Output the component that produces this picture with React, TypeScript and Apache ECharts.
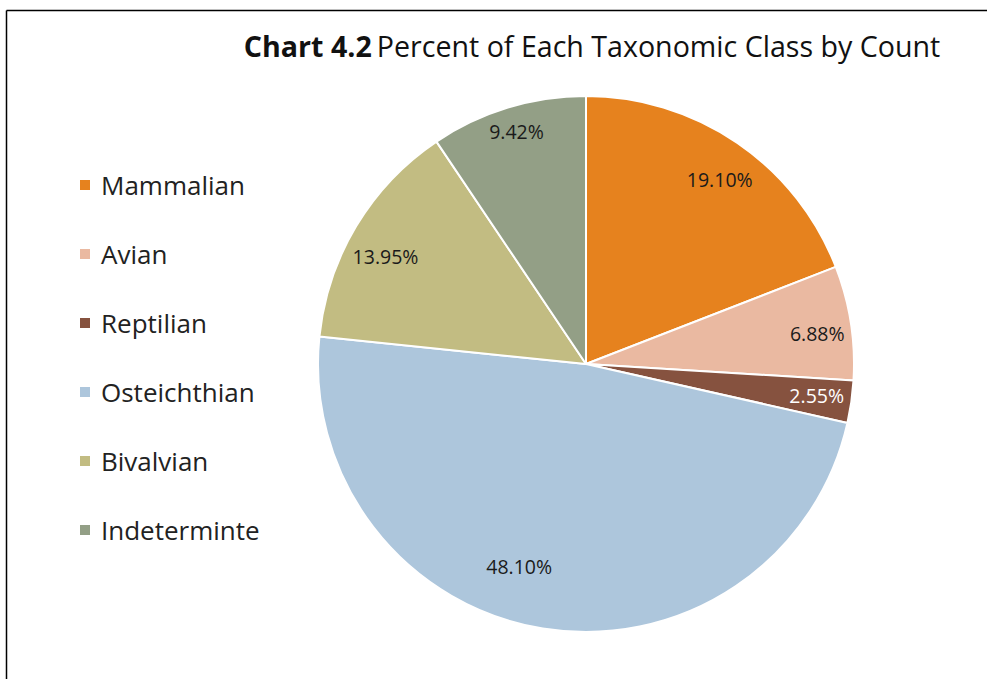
import React, { useEffect, useRef } from "react";
import * as echarts from "echarts";

const categories = ["Mammalian", "Avian", "Reptilian", "Osteichthian", "Bivalvian", "Indeterminte"];
const percents = [19.1, 6.88, 2.55, 48.1, 13.95, 9.42];
const colors = ["#E6821E", "#EAB9A1", "#86523F", "#ADC6DC", "#C2BC82", "#939F86"];
const labelColors = ["#1a1a1a", "#1a1a1a", "#ffffff", "#1a1a1a", "#1a1a1a", "#1a1a1a"];
// small nudges of the data labels (Excel "best fit" placement)
const labelNudges = [[5, 4], [6, 5], [5, -1], [-30, -23], [-5, 10], [-3, -14]];

const FONT = "'Open Sans', 'Noto Sans', sans-serif";

export default function App() {
  const ref = useRef<HTMLDivElement>(null);
  useEffect(() => {
    if (!ref.current) return;
    const chart = echarts.init(ref.current, null, { renderer: "svg" });
    const baseData = categories.map((name, i) => ({
      name,
      value: percents[i],
      itemStyle: { color: colors[i] },
    }));
    const labelData = categories.map((name, i) => ({
      name,
      value: percents[i],
      label: { color: labelColors[i], offset: labelNudges[i] },
    }));
    chart.setOption({
      animation: false,
      backgroundColor: "#ffffff",
      title: {
        text: "{b|Chart 4.2} {n|Percent of Each Taxonomic Class by Count}",
        left: 587,
        top: 26,
        textAlign: "center",
        textStyle: {
          rich: {
            b: { fontFamily: FONT, fontSize: 28.6, fontWeight: "bold", color: "#111" },
            n: { fontFamily: FONT, fontSize: 28.6, fontWeight: "normal", color: "#111" },
          },
        },
      },
      legend: {
        orient: "vertical",
        left: 78,
        top: 172,
        padding: 0,
        itemWidth: 12,
        itemHeight: 12,
        itemGap: 43,
        icon: "rect",
        data: categories,
        textStyle: {
          fontFamily: FONT,
          fontSize: 26,
          lineHeight: 24,
          color: "#222",
          padding: [0, 0, 0, 5],
        },
      },
      graphic: [
        { type: "line", shape: { x1: 6.5, y1: 10.5, x2: 987, y2: 10.5 }, style: { stroke: "#000", lineWidth: 1.5 } },
        { type: "line", shape: { x1: 6.5, y1: 10.5, x2: 6.5, y2: 679 }, style: { stroke: "#000", lineWidth: 1.5 } },
      ],
      series: [
        {
          type: "pie",
          center: [586, 364],
          radius: [0, 268],
          startAngle: 90,
          clockwise: true,
          label: { show: false },
          labelLine: { show: false },
          itemStyle: { borderColor: "#ffffff", borderWidth: 2 },
          emphasis: { disabled: true },
          data: baseData,
        },
        {
          type: "pie",
          center: [586, 364],
          radius: [180, 270],
          startAngle: 90,
          clockwise: true,
          silent: true,
          legendHoverLink: false,
          itemStyle: { color: "rgba(0,0,0,0)" },
          label: {
            show: true,
            position: "inside",
            fontFamily: FONT,
            fontSize: 19.5,
            formatter: (p: any) => p.value.toFixed(2) + "%",
          },
          labelLine: { show: false },
          emphasis: { disabled: true },
          data: labelData,
        },
      ],
    });
    return () => chart.dispose();
  }, []);
  return (
    <div
      ref={ref}
      style={{ position: "fixed", left: 0, top: 0, width: 987, height: 679 }}
    />
  );
}
